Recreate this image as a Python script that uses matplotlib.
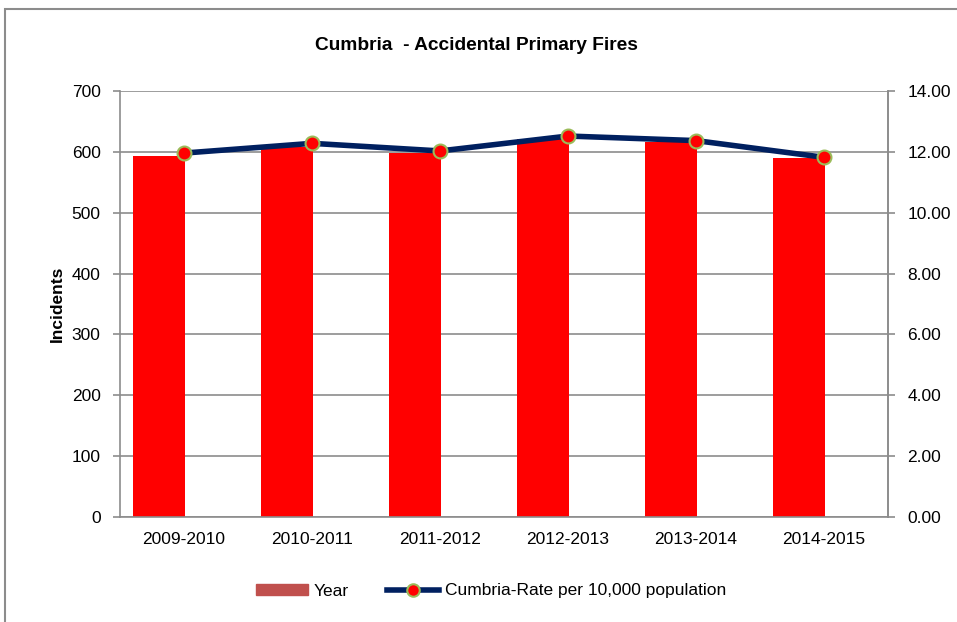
import matplotlib.pyplot as plt
import numpy as np
from matplotlib.patches import Rectangle
from matplotlib.lines import Line2D

years = ['2009-2010', '2010-2011', '2011-2012', '2012-2013', '2013-2014', '2014-2015']
incidents = [593, 608, 598, 621, 616, 590]
rate = [11.96, 12.28, 12.03, 12.52, 12.37, 11.82]

plt.rcParams['font.family'] = ['Liberation Sans Narrow', 'Liberation Sans', 'DejaVu Sans']

fig = plt.figure(figsize=(9.57, 6.22), dpi=100)
W, H = 957, 622

# chart area border (cut off at right and bottom)
fig.patches.append(Rectangle((4.5 / W, -0.1), 1.2, 1 - 8.5 / H + 0.1, transform=fig.transFigure,
                             fill=False, edgecolor='#8c8c8c', linewidth=1.5))

ax = fig.add_axes([120 / W, 1 - 517 / H, 768 / W, 426 / H])
x = np.arange(len(years))
ax.bar(x - 0.195, incidents, width=0.4, color='#ff0000', zorder=2)
ax.set_xlim(-0.5, len(years) - 0.5)
ax.set_ylim(0, 700)
ax.set_yticks(range(0, 701, 100))
ax.yaxis.grid(True, color='#8c8c8c', linewidth=1.2, zorder=0)
ax.set_axisbelow(True)
ax.set_xticks(x)
ax.set_xticklabels(years)
ax.tick_params(axis='x', length=0, pad=11, labelsize=12.5)
ax.tick_params(axis='y', length=5, color='#8c8c8c', width=1.2, pad=9, labelsize=12.5)
ax.spines['top'].set_visible(False)
for s in ['left', 'right', 'bottom']:
    ax.spines[s].set_color('#8c8c8c')
    ax.spines[s].set_linewidth(1.2)
ax.set_ylabel('Incidents', fontsize=12.5, fontweight='bold', labelpad=5)

ax2 = ax.twinx()
ax2.plot(x, rate, color='#002060', linewidth=4, marker='o', markersize=10,
         markerfacecolor='#ff0000', markeredgecolor='#9bbb59', markeredgewidth=1.5, zorder=3)
ax2.set_ylim(0, 14)
ax2.set_yticks(np.arange(0, 14.01, 2))
ax2.set_yticklabels([f'{v:.2f}' for v in np.arange(0, 14.01, 2)])
ax2.tick_params(axis='y', length=5, color='#8c8c8c', width=1.2, pad=9, labelsize=12.5)
for s in ['top', 'left', 'bottom']:
    ax2.spines[s].set_visible(False)
ax2.spines['right'].set_color('#8c8c8c')
ax2.spines['right'].set_linewidth(1.2)

fig.text(476 / W, 1 - 45 / H, 'Cumbria  - Accidental Primary Fires', ha='center', va='center',
         fontsize=13.8, fontweight='bold')

handles = [Rectangle((0, 0), 1, 1, color='#c0504d'),
           Line2D([], [], color='#002060', linewidth=4, marker='o', markersize=9,
                  markerfacecolor='#ff0000', markeredgecolor='#9bbb59', markeredgewidth=1.5)]
fig.legend(handles, ['Year', 'Cumbria-Rate per 10,000 population'], loc='center',
           bbox_to_anchor=(491 / W, 1 - 591 / H), ncol=2, frameon=False, fontsize=12.5,
           handlelength=3.0, handleheight=0.6, handletextpad=0.35, columnspacing=2.2)

fig.savefig('out.png', dpi=100)
